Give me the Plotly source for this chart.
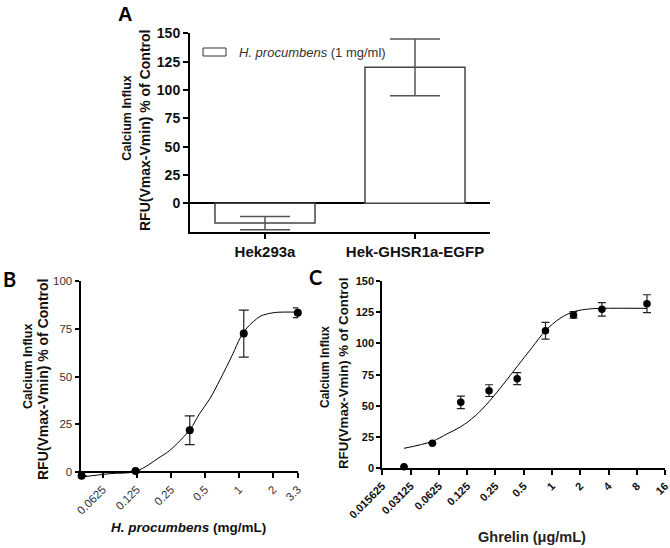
import plotly.graph_objects as go

# ---------------- Panel A data ----------------
a_categories = ["Hek293a", "Hek-GHSR1a-EGFP"]
a_values = [-17.4, 120.0]
a_errors = [5.8, 25.0]
a_yticks = [0, 25, 50, 75, 100, 125, 150]
a_series_name = "<i>H. procumbens</i> (1 mg/ml)"

# ---------------- Panel B data ----------------
b_conc = [0.0407, 0.122, 0.367, 1.1, 3.3]
b_values = [-1.8, 0.6, 22.0, 72.5, 83.4]
b_errors = [None, None, 7.5, 12.3, 2.5]
b_curve_x = [0.0407, 0.073, 0.123, 0.201, 0.245, 0.369, 0.45, 0.554, 0.678,
             0.776, 0.886, 1.02, 1.17, 1.34, 1.53, 1.75, 2.14, 3.3]
b_curve_y = [-2.5, -0.7, 0.5, 8.0, 11.5, 22.4, 30.8, 38.6, 48.3,
             55.2, 62.2, 70.1, 75.4, 78.8, 81.5, 82.7, 83.6, 83.7]
b_xticks = [0.0625, 0.125, 0.25, 0.5, 1, 2, 3.3]
b_xticktext = ["0.0625", "0.125", "0.25", "0.5", "1", "2", "3.3"]
b_yticks = [0, 25, 50, 75, 100]

# ---------------- Panel C data ----------------
c_conc = [0.0266, 0.0533, 0.107, 0.214, 0.426, 0.853, 1.695, 3.4, 10.26]
c_values = [1.3, 20.0, 52.8, 62.2, 71.8, 110.2, 122.8, 127.3, 131.8]
c_errors = [None, None, 5.0, 4.7, 4.8, 6.7, 2.6, 5.4, 7.2]
c_curve_x = [0.0266, 0.0533, 0.076, 0.107, 0.152, 0.214, 0.305, 0.426, 0.61,
             0.853, 1.22, 1.695, 2.5, 3.4, 10.26]
c_curve_y = [16.0, 21.6, 27.5, 33.3, 41.9, 53.4, 67.5, 81.5, 96.5,
             110.2, 120.1, 125.4, 127.6, 128.1, 128.1]
c_xticks = [0.015625, 0.03125, 0.0625, 0.125, 0.25, 0.5, 1, 2, 4, 8, 16]
c_xticktext = ["0.015625", "0.03125", "0.0625", "0.125", "0.25", "0.5",
               "1", "2", "4", "8", "16"]
c_yticks = [0, 25, 50, 75, 100, 125, 150]

FONT = "Liberation Sans, Arial, sans-serif"
W, H = 670, 548


def px(x):
    return x / W


def py(y):
    return 1 - y / H


fig = go.Figure()

# Panel A bars
fig.add_trace(go.Bar(
    x=a_categories, y=a_values, width=0.667,
    marker=dict(color="white", line=dict(color="#444", width=1.5)),
    error_y=dict(type="data", array=a_errors, color="#555", thickness=1.5, width=25),
    xaxis="x", yaxis="y", showlegend=False,
))

# Panel B
fig.add_trace(go.Scatter(
    x=b_curve_x, y=b_curve_y, mode="lines", line=dict(color="black", width=1, shape="spline"),
    xaxis="x2", yaxis="y2", showlegend=False, hoverinfo="skip",
))
fig.add_trace(go.Scatter(
    x=b_conc, y=b_values, mode="markers",
    marker=dict(color="black", size=8),
    error_y=dict(type="data", array=b_errors, color="#222", thickness=1.2, width=5),
    xaxis="x2", yaxis="y2", showlegend=False, cliponaxis=False,
))

# Panel C
fig.add_trace(go.Scatter(
    x=c_curve_x, y=c_curve_y, mode="lines", line=dict(color="black", width=1, shape="spline"),
    xaxis="x3", yaxis="y3", showlegend=False, hoverinfo="skip",
))
fig.add_trace(go.Scatter(
    x=c_conc, y=c_values, mode="markers",
    marker=dict(color="black", size=7.5),
    error_y=dict(type="data", array=c_errors, color="#222", thickness=1.2, width=4),
    xaxis="x3", yaxis="y3", showlegend=False, cliponaxis=False,
))

axis_common = dict(showline=True, linecolor="black", linewidth=2, ticks="outside",
                   tickcolor="black", tickwidth=2, showgrid=False, zeroline=False,
                   automargin=False, ticklabeloverflow="allow")

b_ymin, b_ymax = -3, 100
b_dom = [py(478), py(281)]
b_xpos = b_dom[0] + (0 - b_ymin) / (b_ymax - b_ymin) * (b_dom[1] - b_dom[0])

fig.update_layout(
    template="none",
    width=W, height=H, margin=dict(l=0, r=0, t=0, b=0, pad=0), autosize=False,
    paper_bgcolor="white", plot_bgcolor="white",
    font=dict(family=FONT, color="#111"),
    showlegend=False,
    xaxis=dict(axis_common, domain=[px(190), px(490)], anchor="y", type="category",
               range=[-0.5, 1.5], ticklen=5,
               tickfont=dict(size=15, weight="bold", color="#111")),
    yaxis=dict(axis_common, domain=[py(231.7), py(33.3)], anchor="x", range=[-25, 150],
               tickvals=a_yticks, ticklen=5, zeroline=True, zerolinecolor="black",
               zerolinewidth=2, tickfont=dict(size=14, weight="bold", color="#111")),
    xaxis2=dict(axis_common, domain=[px(80.5), px(298.3)], anchor="free", position=b_xpos,
                type="log", range=[-1.400, 0.5229], tickvals=b_xticks, ticktext=b_xticktext,
                tickangle=-45, ticklen=5, tickfont=dict(size=11.5, color="#333")),
    yaxis2=dict(axis_common, domain=b_dom, anchor="x2", range=[b_ymin, b_ymax],
                tickvals=b_yticks, ticklen=4, tickfont=dict(size=11.5, color="#333")),
    xaxis3=dict(axis_common, domain=[px(382.3), px(665.3)], anchor="y3", type="log",
                range=[-1.80618, 1.2063], tickvals=c_xticks, ticktext=c_xticktext,
                tickangle=-45, ticklen=5, tickfont=dict(size=11, weight="bold", color="#111")),
    yaxis3=dict(axis_common, domain=[py(468.3), py(281)], anchor="x3", range=[0, 150],
                tickvals=c_yticks, ticklen=4, tickfont=dict(size=11, weight="bold", color="#111")),
)

ann = []
# panel letters
ann.append(dict(x=px(125), y=py(14), text="<b>A</b>", font=dict(size=20, family=FONT, color="black")))
ann.append(dict(x=px(9), y=py(279), text="<b>B</b>", font=dict(size=20, family="Lato, " + FONT, color="black")))
ann.append(dict(x=px(315), y=py(277), text="<b>C</b>", font=dict(size=20, family="Lato, " + FONT, color="black")))

# y titles
for (x1, y1, x2, y2, s1, s2) in [(126.7, 118, 145, 131, 12.5, 14),
                                  (28, 367, 43, 380, 12.5, 14),
                                  (325, 367, 343, 374, 12, 13.3)]:
    ann.append(dict(x=px(x1), y=py(y1), text="<b>Calcium Influx</b>", textangle=-90,
                    font=dict(size=s1, color="#111")))
    ann.append(dict(x=px(x2), y=py(y2), text="<b>RFU(Vmax-Vmin) % of Control</b>", textangle=-90,
                    font=dict(size=s2, color="#111")))

# x titles
ann.append(dict(x=px(188), y=py(527), text="<b><i>H. procumbens</i> (mg/mL)</b>",
                font=dict(size=13.5, color="#111")))
ann.append(dict(x=px(532), y=py(537), text="<b>Ghrelin (μg/mL)</b>",
                font=dict(size=14.5, color="#222")))

# legend text for panel A
ann.append(dict(x=px(237), y=py(52), text=a_series_name, xanchor="left",
                font=dict(size=13, color="#333")))

for a in ann:
    a.setdefault("xref", "paper")
    a.setdefault("yref", "paper")
    a.setdefault("showarrow", False)
    a.setdefault("xanchor", "center")
    a.setdefault("yanchor", "middle")
fig.update_layout(annotations=ann)

# legend swatch for panel A
fig.add_shape(type="rect", xref="paper", yref="paper",
              x0=px(203), x1=px(226), y0=py(56), y1=py(48),
              line=dict(color="#333", width=1), fillcolor="white")

fig.write_html("out.html", config={"displayModeBar": False},
               post_script="document.body.style.margin='0px';document.body.style.overflow='hidden';")
